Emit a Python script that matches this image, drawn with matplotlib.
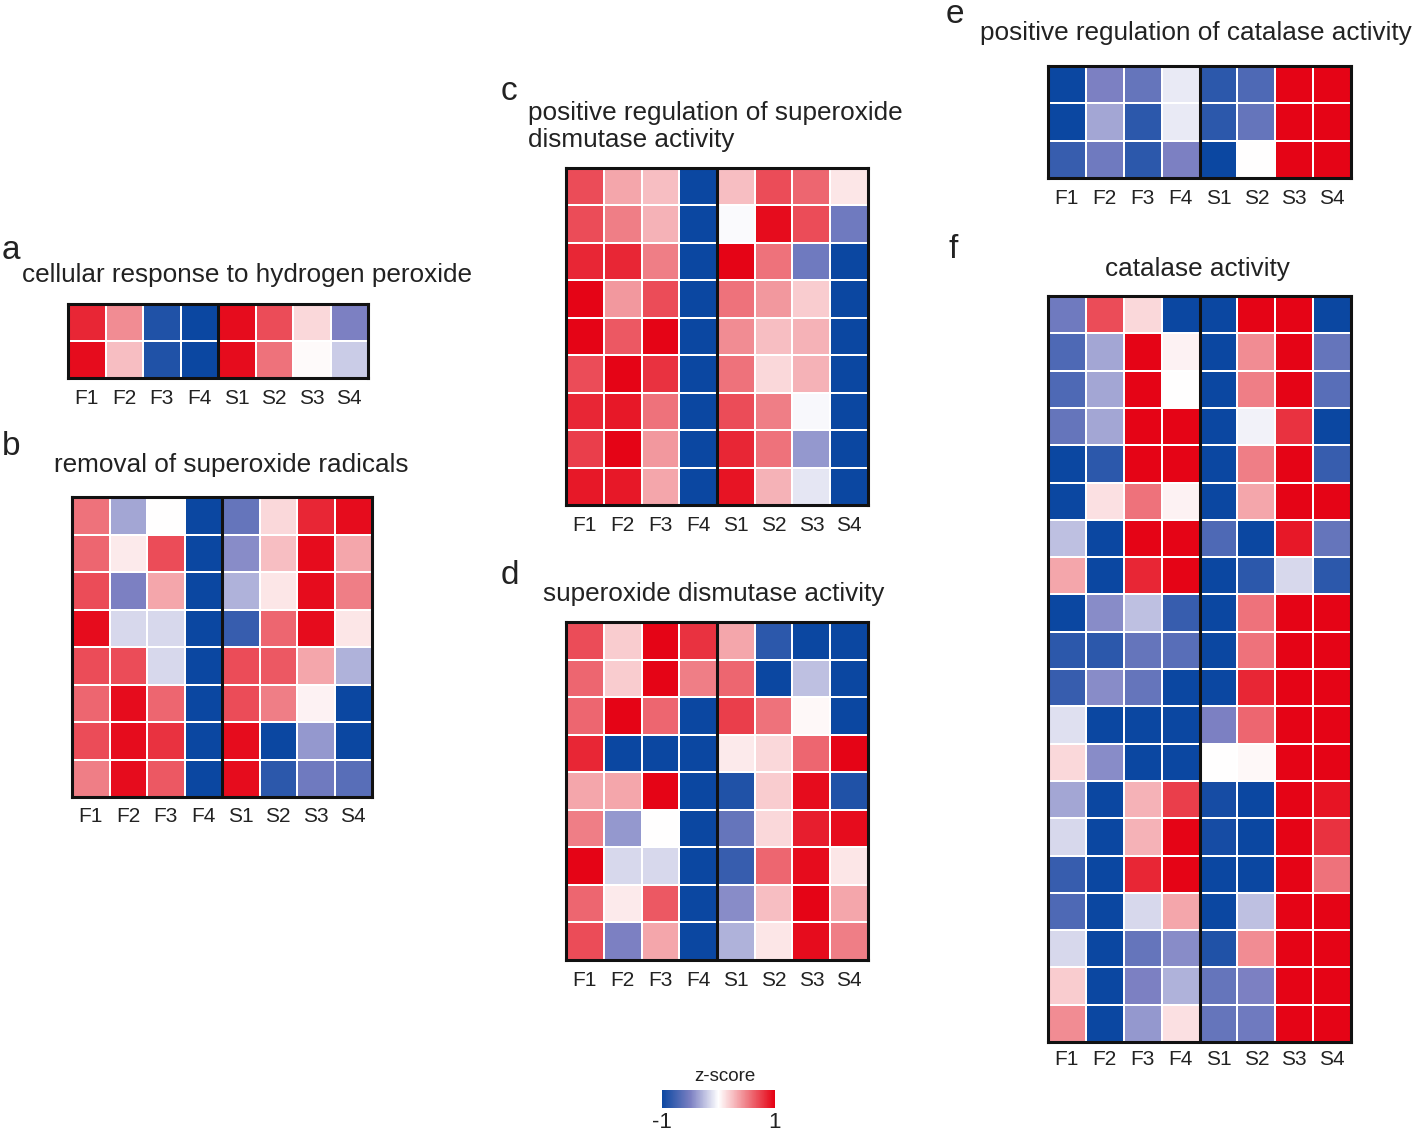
import numpy as np
import matplotlib
matplotlib.use("Agg")
import matplotlib.pyplot as plt
from matplotlib.colors import LinearSegmentedColormap
import matplotlib as mpl

plt.rcParams['font.family'] = ['Liberation Sans', 'DejaVu Sans']

samples = ["F1", "F2", "F3", "F4", "S1", "S2", "S3", "S4"]

data_a = [
    [0.85, 0.45, -0.9, -1.0, 0.95, 0.70, 0.15, -0.50],
    [0.95, 0.25, -0.9, -1.0, 0.95, 0.55, 0.02, -0.20],
]

data_b = [
    [0.55, -0.35, 0.00, -1, -0.60, 0.15, 0.85, 0.95],
    [0.60, 0.08, 0.70, -1, -0.45, 0.25, 0.95, 0.35],
    [0.70, -0.50, 0.35, -1, -0.30, 0.10, 0.95, 0.50],
    [0.95, -0.15, -0.15, -1, -0.80, 0.60, 0.95, 0.10],
    [0.70, 0.70, -0.15, -1, 0.70, 0.65, 0.35, -0.30],
    [0.60, 0.95, 0.60, -1, 0.70, 0.50, 0.05, -1],
    [0.70, 0.95, 0.80, -1, 0.95, -1, -0.40, -1],
    [0.50, 0.95, 0.65, -1, 0.95, -0.85, -0.55, -0.65],
]

data_c = [
    [0.70, 0.35, 0.25, -1, 0.25, 0.70, 0.60, 0.10],
    [0.70, 0.50, 0.30, -1, -0.02, 0.95, 0.70, -0.55],
    [0.85, 0.85, 0.50, -1, 0.98, 0.55, -0.55, -1],
    [0.98, 0.40, 0.70, -1, 0.55, 0.40, 0.20, -1],
    [0.98, 0.65, 0.98, -1, 0.45, 0.25, 0.30, -1],
    [0.70, 0.98, 0.80, -1, 0.55, 0.15, 0.30, -1],
    [0.85, 0.90, 0.55, -1, 0.70, 0.50, -0.03, -1],
    [0.75, 0.98, 0.40, -1, 0.85, 0.55, -0.40, -1],
    [0.90, 0.90, 0.35, -1, 0.92, 0.30, -0.10, -1],
]

data_d = [
    [0.70, 0.20, 0.98, 0.80, 0.35, -0.85, -1, -1],
    [0.60, 0.20, 0.98, 0.50, 0.60, -1, -0.25, -1],
    [0.60, 0.98, 0.60, -1, 0.75, 0.55, 0.03, -1],
    [0.85, -1, -1, -1, 0.08, 0.15, 0.60, 0.98],
    [0.35, 0.35, 0.98, -1, -0.90, 0.20, 0.95, -0.90],
    [0.50, -0.40, 0.00, -1, -0.60, 0.15, 0.88, 0.95],
    [0.98, -0.15, -0.15, -1, -0.80, 0.60, 0.95, 0.10],
    [0.60, 0.08, 0.65, -1, -0.45, 0.25, 0.98, 0.35],
    [0.70, -0.50, 0.35, -1, -0.30, 0.10, 0.95, 0.50],
]

data_e = [
    [-1, -0.50, -0.60, -0.08, -0.85, -0.70, 0.98, 0.98],
    [-1, -0.35, -0.85, -0.08, -0.85, -0.60, 0.98, 0.98],
    [-0.80, -0.55, -0.85, -0.50, -1, 0.00, 0.98, 0.98],
]

data_f = [
    [-0.55, 0.70, 0.15, -1, -1, 0.98, 0.98, -1],
    [-0.70, -0.35, 0.98, 0.05, -1, 0.45, 0.98, -0.60],
    [-0.70, -0.35, 0.98, 0.00, -1, 0.50, 0.98, -0.65],
    [-0.60, -0.35, 0.98, 0.98, -1, -0.05, 0.80, -1],
    [-1, -0.85, 0.98, 0.98, -1, 0.50, 0.98, -0.80],
    [-1, 0.12, 0.55, 0.05, -1, 0.35, 0.98, 0.98],
    [-0.25, -1, 0.98, 0.98, -0.70, -1, 0.90, -0.60],
    [0.35, -1, 0.85, 0.98, -1, -0.85, -0.15, -0.85],
    [-1, -0.45, -0.25, -0.80, -1, 0.55, 0.98, 0.98],
    [-0.85, -0.85, -0.60, -0.65, -1, 0.55, 0.98, 0.98],
    [-0.80, -0.45, -0.60, -1, -1, 0.85, 0.98, 0.98],
    [-0.12, -1, -1, -1, -0.50, 0.60, 0.98, 0.98],
    [0.15, -0.45, -1, -1, 0.00, 0.03, 0.98, 0.98],
    [-0.35, -1, 0.30, 0.75, -0.95, -1, 0.98, 0.92],
    [-0.15, -1, 0.30, 0.98, -0.95, -1, 0.98, 0.80],
    [-0.80, -1, 0.85, 0.98, -1, -1, 0.98, 0.55],
    [-0.70, -1, -0.15, 0.35, -1, -0.25, 0.98, 0.98],
    [-0.15, -1, -0.60, -0.45, -0.90, 0.45, 0.98, 0.98],
    [0.20, -1, -0.50, -0.30, -0.60, -0.50, 0.98, 0.98],
    [0.45, -1, -0.40, 0.12, -0.60, -0.55, 0.98, 0.98],
]

W, H = 1418, 1133
fig = plt.figure(figsize=(W / 100, H / 100), dpi=100)
fig.patch.set_facecolor('white')

cmap = LinearSegmentedColormap.from_list(
    'zs', [(0.0, '#0B47A1'), (0.25, '#7B80C2'), (0.5, '#FFFFFF'),
           (0.75, '#EF7F87'), (1.0, '#E50012')])


def fx(x):
    return x / W


def fy(y):
    return 1 - y / H


def heat(data, box, tick_pad=8):
    x0, y0, x1, y1 = box
    ax = fig.add_axes([fx(x0), fy(y1), (x1 - x0) / W, (y1 - y0) / H])
    arr = np.array(data, dtype=float)
    ax.pcolormesh(arr, cmap=cmap, vmin=-1, vmax=1,
                  edgecolors='white', linewidth=1.4)
    ax.set_xlim(0, arr.shape[1])
    ax.set_ylim(arr.shape[0], 0)
    ax.set_xticks(np.arange(arr.shape[1]) + 0.5)
    ax.set_xticklabels(samples, fontsize=15, color='#222222')
    ax.set_yticks([])
    ax.tick_params(axis='x', length=0, pad=tick_pad)
    for s in ax.spines.values():
        s.set_linewidth(2.2)
        s.set_color('#111111')
    ax.axvline(4, color='#111111', lw=2.2)
    return ax


tfs = 18.8
lfs = 24

# a
heat(data_a, (68, 304, 368, 378))
fig.text(fx(2), fy(259), 'a', fontsize=lfs, va='baseline', ha='left', color='#222222')
fig.text(fx(247), fy(282), 'cellular response to hydrogen peroxide', fontsize=tfs,
         va='baseline', ha='center', color='#222222')

# b
heat(data_b, (72, 497, 372, 797), tick_pad=7)
fig.text(fx(2), fy(455), 'b', fontsize=lfs, va='baseline', ha='left', color='#222222')
fig.text(fx(231), fy(472), 'removal of superoxide radicals', fontsize=tfs,
         va='baseline', ha='center', color='#222222')

# c
heat(data_c, (566, 168, 868, 505))
fig.text(fx(501), fy(100), 'c', fontsize=lfs, va='baseline', ha='left', color='#222222')
fig.text(fx(528), fy(120), 'positive regulation of superoxide', fontsize=tfs,
         va='baseline', ha='left', color='#222222')
fig.text(fx(528), fy(147), 'dismutase activity', fontsize=tfs,
         va='baseline', ha='left', color='#222222')

# d
heat(data_d, (566, 622, 868, 960))
fig.text(fx(501), fy(584), 'd', fontsize=lfs, va='baseline', ha='left', color='#222222')
fig.text(fx(714), fy(601), 'superoxide dismutase activity', fontsize=tfs,
         va='baseline', ha='center', color='#222222')

# e
heat(data_e, (1048, 66, 1351, 178))
fig.text(fx(946), fy(23), 'e', fontsize=lfs, va='baseline', ha='left', color='#222222')
fig.text(fx(1196), fy(40), 'positive regulation of catalase activity', fontsize=tfs,
         va='baseline', ha='center', color='#222222')

# f
heat(data_f, (1048, 296, 1351, 1042), tick_pad=6)
fig.text(fx(949), fy(258), 'f', fontsize=lfs, va='baseline', ha='left', color='#222222')
fig.text(fx(1197), fy(276), 'catalase activity', fontsize=tfs,
         va='baseline', ha='center', color='#222222')

# colorbar
cax = fig.add_axes([fx(662), fy(1108), (775 - 662) / W, (1108 - 1090) / H])
norm = mpl.colors.Normalize(vmin=-1, vmax=1)
cb = mpl.colorbar.ColorbarBase(cax, cmap=cmap, norm=norm, orientation='horizontal')
cb.outline.set_visible(False)
cb.set_ticks([-1, 1])
cb.set_ticklabels(['-1', '1'])
cax.tick_params(length=0, pad=3, labelsize=16, colors='#222222')
fig.text(fx(725), fy(1081), 'z-score', fontsize=13.5, va='baseline', ha='center', color='#222222')

fig.savefig('out.png', dpi=100, facecolor='white')
